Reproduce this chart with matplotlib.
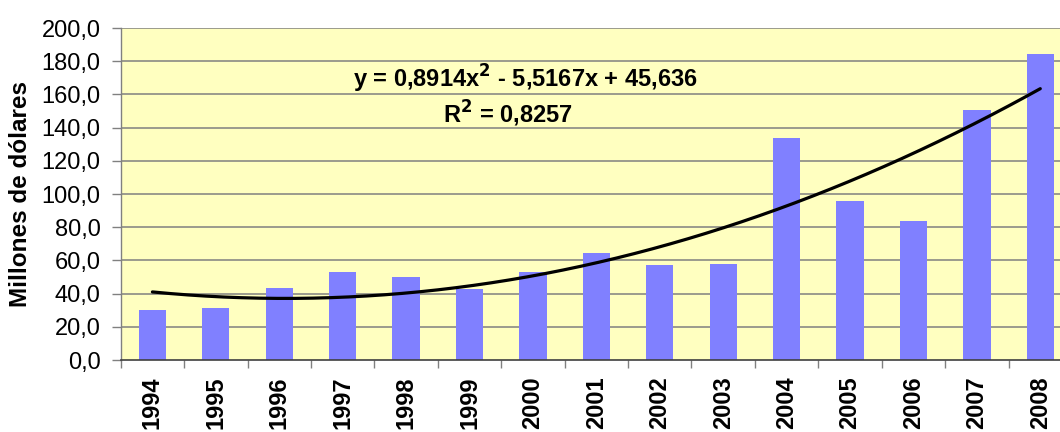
import numpy as np
import matplotlib
matplotlib.use("Agg")
import matplotlib.pyplot as plt
from matplotlib.ticker import FixedLocator, FuncFormatter

# Annual values (millions of dollars)
years = ["1994", "1995", "1996", "1997", "1998", "1999", "2000", "2001",
         "2002", "2003", "2004", "2005", "2006", "2007", "2008"]
values = [30.1, 31.3, 43.4, 53.0, 50.0, 42.8, 52.8, 64.5,
          57.2, 57.8, 133.7, 95.8, 83.7, 150.6, 184.3]

# Quadratic trend: y = a*x^2 + b*x + c, x = 1..n
trend_coef = [0.8914, -5.5167, 45.636]
r_squared = 0.8257

yticks = [0, 20, 40, 60, 80, 100, 120, 140, 160, 180, 200]

plt.rcParams["font.family"] = ["Liberation Sans", "DejaVu Sans"]

fig = plt.figure(figsize=(10.6, 4.32), dpi=100)
ax = fig.add_axes([120.7 / 1060, 1 - 360 / 432, 951.3 / 1060, 332 / 432])
ax.set_facecolor("#FFFFC0")

n = len(years)
x = np.arange(1, n + 1)
ax.bar(x, values, width=0.43, color="#8080FF", zorder=2)

xt = np.linspace(1, n, 200)
yt = np.polyval(trend_coef, xt)
ax.plot(xt, yt, color="black", lw=2.3, zorder=3, solid_capstyle="round")

ax.set_xlim(0.5, n + 0.5)
ax.set_ylim(0, 200)

# Horizontal gridlines
for v in yticks[1:]:
    ax.axhline(v, color="#808080", lw=1.1, zorder=1)

ax.yaxis.set_major_locator(FixedLocator(yticks))
ax.yaxis.set_major_formatter(FuncFormatter(lambda v, p: f"{v:.1f}".replace(".", ",")))
ax.tick_params(axis="y", length=6.5, width=1.0, color="#808080", pad=8,
               labelsize=17, labelcolor="black")

ax.set_xticks(x)
ax.set_xticklabels(years, rotation=90, fontweight="bold", fontsize=17,
                   va="top")
ax.tick_params(axis="x", which="major", length=0, pad=12)
ax.xaxis.set_minor_locator(FixedLocator(np.arange(0.5, n + 1, 1.0)))
ax.tick_params(axis="x", which="minor", length=5.5, width=1.0, color="#808080")

for side in ("top", "right"):
    ax.spines[side].set_visible(False)
ax.spines["left"].set_color("#808080")
ax.spines["left"].set_linewidth(1.0)
ax.spines["bottom"].set_color("#404040")
ax.spines["bottom"].set_linewidth(1.2)

ax.set_ylabel("Millones de dólares", fontsize=17.5, fontweight="bold")
ax.yaxis.set_label_coords(-89 / 951.3, 0.5)

a, b, c = trend_coef
def fmt(v, d):
    return f"{v:.{d}f}".replace(".", ",")
eq = (f"y = {fmt(a, 4)}x$^{{\\mathbf{{2}}}}$ - {fmt(-b, 4)}x + {fmt(c, 3)}")
fig.text(525 / 1060, 1 - 79 / 432, eq, ha="center", va="center",
         fontsize=17, fontweight="bold")
fig.text(508 / 1060, 1 - 114 / 432, f"R$^{{\\mathbf{{2}}}}$ = {fmt(r_squared, 4)}",
         ha="center", va="center", fontsize=17, fontweight="bold")

fig.savefig("out.png", dpi=100)
